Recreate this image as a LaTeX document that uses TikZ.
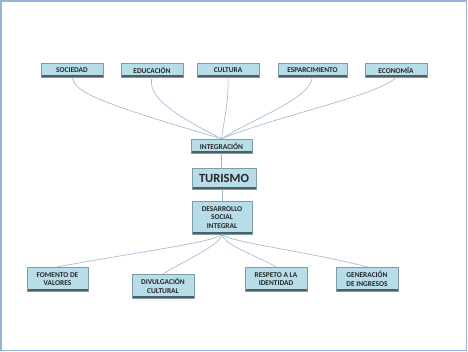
\documentclass[tikz,border=0pt]{standalone}
\usepackage{fontspec}
\setmainfont{Carlito}
\definecolor{boxfill}{HTML}{B7DDE8}
\definecolor{boxedge}{HTML}{7F9BA6}
\definecolor{boxshadow}{HTML}{4F5F66}
\definecolor{linkcol}{HTML}{9DB5D0}
\definecolor{framecol}{HTML}{95B3D7}
\tikzset{
  cbox/.style={draw=boxedge, line width=0.4pt, fill=boxfill, inner sep=1pt,
    align=center, font=\bfseries\fontsize{7.4}{8.3}\selectfont, text=black!85,
    minimum height=14pt,
    path picture={\fill[boxshadow] ([yshift=1.8pt]path picture bounding box.south west) rectangle (path picture bounding box.south east);}},
  link/.style={draw=linkcol, line width=0.6pt}
}
\begin{document}
\begin{tikzpicture}[x=1pt,y=-1pt]
\useasboundingbox (0,0) rectangle (468,352);
\fill[white] (0,0) rectangle (468,352);
\draw[framecol, line width=1.6pt] (1.2,1.2) rectangle (466.3,350.3);

\node[cbox, minimum width=62pt] (soc) at (72,70) {SOCIEDAD};
\node[cbox, minimum width=62pt] (edu) at (152,70) {EDUCACIÓN};
\node[cbox, minimum width=62pt] (cul) at (228,70) {CULTURA};
\node[cbox, minimum width=69pt] (esp) at (312.5,70) {ESPARCIMIENTO};
\node[cbox, minimum width=62pt] (eco) at (396,70) {ECONOMÍA};

\node[cbox, minimum width=61pt] (int) at (221.5,146) {INTEGRACIÓN};
\node[cbox, minimum width=64pt, minimum height=21pt, font=\bfseries\fontsize{12.5}{14}\selectfont] (tur) at (224,178.5) {TURISMO};
\node[cbox, minimum width=60pt, minimum height=33pt] (des) at (222,217.5) {DESARROLLO\\SOCIAL\\INTEGRAL};

\node[cbox, minimum width=61pt, minimum height=24pt] (fom) at (57.5,279) {FOMENTO DE\\VALORES};
\node[cbox, minimum width=62pt, minimum height=24pt] (div) at (163,286) {DIVULGACIÓN\\CULTURAL};
\node[cbox, minimum width=62pt, minimum height=24pt] (res) at (276,279) {RESPETO A LA\\IDENTIDAD};
\node[cbox, minimum width=62pt, minimum height=24pt] (gen) at (367,279) {GENERACIÓN\\DE INGRESOS};

\draw[link] (soc.south) .. controls (76,92) and (90,100) .. (int.north);
\draw[link] (edu.south) .. controls (148,95) and (165,110) .. (int.north);
\draw[link] (cul.south) .. controls (229,100) and (224,120) .. (int.north);
\draw[link] (esp.south) .. controls (308,100) and (260,115) .. (int.north);
\draw[link] (eco.south) .. controls (380,95) and (280,115) .. (int.north);

\draw[link] (int.south) -- (int.south |- tur.north);
\draw[link] (tur.south -| des.north) -- (des.north);

\draw[link] (des.south) .. controls (215,242) and (150,250) .. (fom.north);
\draw[link] (des.south) .. controls (220,245) and (190,258) .. (div.north);
\draw[link] (des.south) .. controls (224,245) and (255,255) .. (res.north);
\draw[link] (des.south) .. controls (228,242) and (300,250) .. (gen.north);
\end{tikzpicture}
\end{document}
